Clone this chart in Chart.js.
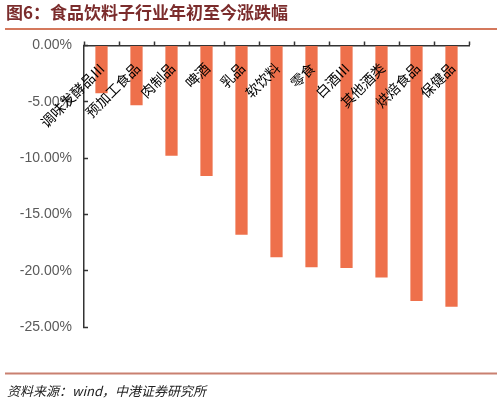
<!DOCTYPE html>
<html>
<head>
    <meta charset="utf-8">
    <title>食品饮料子行业年初至今涨跌幅</title>
    <script src="https://cdn.jsdelivr.net/npm/chart.js"></script>
    <style>
        html, body { margin: 0; padding: 0; background: #fff; }
        #wrap { width: 503px; height: 402px; position: relative; }
    </style>
</head>
<body>
<div id="wrap">
    <canvas id="perfChart" width="503" height="402"></canvas>
</div>
<script>
    // 数据
    const categories = ['调味发酵品Ⅲ', '预加工食品', '肉制品', '啤酒', '乳品', '软饮料', '零食', '白酒Ⅲ', '其他酒类', '烘焙食品', '保健品'];
    const changes = [-4.25, -5.3, -9.8, -11.6, -16.8, -18.8, -19.7, -19.75, -20.6, -22.7, -23.2];
    const yTicks = [0, -5, -10, -15, -20, -25];

    const titleText = '图6：食品饮料子行业年初至今涨跌幅';
    const sourceText = '资料来源：wind，中港证券研究所';

    // 标题、分隔线、来源、倾斜的类别标签
    const decorations = {
        id: 'decorations',
        afterDraw(chart) {
            const ctx = chart.ctx;
            const x = chart.scales.x;
            ctx.save();

            ctx.fillStyle = '#7b2c2c';
            ctx.font = 'bold 17px "Noto Sans CJK SC"';
            ctx.textAlign = 'left';
            ctx.textBaseline = 'middle';
            ctx.fillText(titleText, 6, 13);

            ctx.strokeStyle = '#d4785c';
            ctx.lineWidth = 2;
            ctx.beginPath();
            ctx.moveTo(5, 29);
            ctx.lineTo(497, 29);
            ctx.stroke();

            ctx.strokeStyle = '#c98070';
            ctx.beginPath();
            ctx.moveTo(5, 373.5);
            ctx.lineTo(497, 373.5);
            ctx.stroke();

            ctx.fillStyle = '#222';
            ctx.font = 'italic 13px "Noto Sans CJK SC"';
            ctx.fillText(sourceText, 7, 391);

            ctx.fillStyle = '#000';
            ctx.font = '14px "Noto Sans CJK SC"';
            ctx.textAlign = 'right';
            categories.forEach((c, i) => {
                ctx.save();
                ctx.translate(x.getPixelForValue(i) + 1, chart.chartArea.top + 20);
                ctx.rotate(-Math.PI / 4);
                ctx.fillText(c, 0, 0);
                ctx.restore();
            });
            ctx.restore();
        }
    };

    new Chart(document.getElementById('perfChart'), {
        type: 'bar',
        data: {
            labels: categories,
            datasets: [{
                data: changes,
                backgroundColor: '#ee704b',
                categoryPercentage: 1,
                barPercentage: 0.35
            }]
        },
        options: {
            responsive: false,
            animation: false,
            layout: { padding: { top: 41, right: 34, bottom: 75, left: 0 } },
            plugins: {
                legend: { display: false },
                title: { display: false },
                tooltip: { enabled: false }
            },
            scales: {
                x: {
                    position: 'top',
                    ticks: { display: false },
                    grid: { drawOnChartArea: false, tickLength: 4, tickColor: '#333', tickWidth: 1.5 },
                    border: { color: '#333', width: 1.5 },
                    afterFit(scale) { scale.height = 4.5; }
                },
                y: {
                    min: -25,
                    max: 0,
                    afterBuildTicks(scale) { scale.ticks = yTicks.map(v => ({ value: v })); },
                    ticks: {
                        color: '#5a5a5a',
                        font: { family: '"Liberation Sans", Arial', size: 14 },
                        padding: 16,
                        callback: v => v.toFixed(2) + '%'
                    },
                    grid: { drawOnChartArea: false, tickLength: -4, tickColor: '#333', tickWidth: 1.5 },
                    border: { color: '#333', width: 1.5 },
                    afterFit(scale) { scale.width = 84; }
                }
            }
        },
        plugins: [decorations]
    });
</script>
</body>
</html>
